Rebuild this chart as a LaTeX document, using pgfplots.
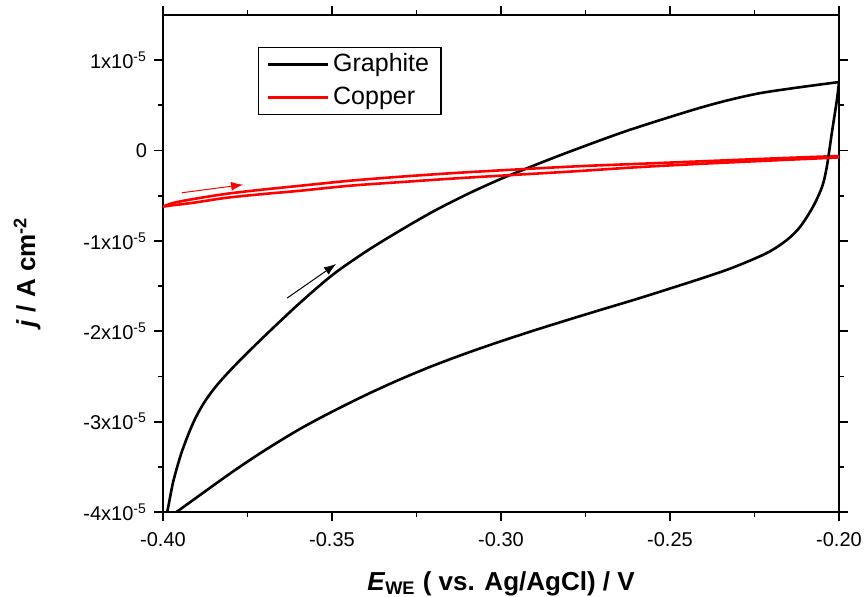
\documentclass[border=0pt]{standalone}
\usepackage{fontspec}
\setmainfont{Liberation Sans}
\usepackage{pgfplots}
\pgfplotsset{compat=1.18}
\usetikzlibrary{arrows.meta}

% graphite: forward (upper) and reverse (lower) scans, j in A cm^-2
\pgfplotstableread{
E        j
-0.4000  -4.15e-5
-0.3988  -4.01e-5
-0.3970  -3.668e-5
-0.3944  -3.330e-5
-0.3911  -3.016e-5
-0.3880  -2.799e-5
-0.3845  -2.617e-5
-0.3800  -2.428e-5
-0.3750  -2.238e-5
-0.3692  -2.026e-5
-0.3595  -1.686e-5
-0.3497  -1.372e-5
-0.3396  -1.109e-5
-0.3299  -0.886e-5
-0.3201  -0.675e-5
-0.3100  -0.483e-5
-0.3003  -0.318e-5
-0.2905  -0.169e-5
-0.2796  -0.011e-5
-0.2627   0.219e-5
-0.2432   0.450e-5
-0.2330   0.555e-5
-0.2234   0.635e-5
-0.2117   0.700e-5
-0.2000   0.758e-5
}\graphitefwd

\pgfplotstableread{
E        j
-0.2000   0.758e-5
-0.2006   0.567e-5
-0.2021   0.20e-5
-0.2036  -0.178e-5
-0.2050  -0.40e-5
-0.2077  -0.622e-5
-0.2115  -0.844e-5
-0.2154  -0.989e-5
-0.2213  -1.133e-5
-0.2314  -1.295e-5
-0.2411  -1.420e-5
-0.2589  -1.632e-5
-0.2707  -1.765e-5
-0.2805  -1.877e-5
-0.2905  -1.994e-5
-0.3003  -2.114e-5
-0.3101  -2.241e-5
-0.3201  -2.381e-5
-0.3299  -2.533e-5
-0.3396  -2.698e-5
-0.3497  -2.885e-5
-0.3595  -3.081e-5
-0.3700  -3.320e-5
-0.3800  -3.57e-5
-0.3964  -4.01e-5
-0.4000  -4.10e-5
}\graphiterev

% copper
\pgfplotstableread{
E        j
-0.4000  -0.62e-5
-0.3970  -0.58e-5
-0.3911  -0.537e-5
-0.3811  -0.478e-5
-0.3700  -0.43e-5
-0.3595  -0.39e-5
-0.3450  -0.335e-5
-0.3300  -0.29e-5
-0.3100  -0.24e-5
-0.2796  -0.178e-5
-0.2600  -0.148e-5
-0.2400  -0.118e-5
-0.2200  -0.088e-5
-0.2000  -0.060e-5
}\copperfwd

\pgfplotstableread{
E        j
-0.2000  -0.060e-5
-0.2000  -0.075e-5
-0.2200  -0.110e-5
-0.2400  -0.145e-5
-0.2600  -0.185e-5
-0.2796  -0.233e-5
-0.3100  -0.30e-5
-0.3300  -0.35e-5
-0.3450  -0.39e-5
-0.3595  -0.445e-5
-0.3700  -0.48e-5
-0.3811  -0.522e-5
-0.3911  -0.578e-5
-0.3970  -0.605e-5
-0.4000  -0.62e-5
}\copperrev

\begin{document}
\begin{tikzpicture}
\path[use as bounding box] (-81.5pt,-42pt) rectangle (351pt,256pt);
\begin{axis}[
  at={(0,0)}, anchor=south west,
  scale only axis, width=338pt, height=248.5pt,
  xmin=-0.40, xmax=-0.20, ymin=-4e-5, ymax=1.5e-5,
  xtick={-0.40,-0.35,-0.30,-0.25,-0.20},
  xticklabels={-0.40,-0.35,-0.30,-0.25,-0.20},
  ytick={-4e-5,-3e-5,-2e-5,-1e-5,0,1e-5},
  yticklabels={-4x10\textsuperscript{-5},-3x10\textsuperscript{-5},-2x10\textsuperscript{-5},-1x10\textsuperscript{-5},0,1x10\textsuperscript{-5}},
  scaled y ticks=false,
  minor x tick num=1, minor y tick num=1,
  tick align=outside,
  major tick length=4.5pt, minor tick length=2.5pt,
  axis line style={line width=1.1pt},
  every tick/.style={black, line width=0.9pt},
  tick label style={font=\fontsize{10}{12}\selectfont},
  x tick label style={yshift=-2pt},
  xlabel={\textbf{\textit{E}\textsubscript{WE} ( vs. Ag/AgCl) / V}},
  ylabel={\textbf{\textit{j} / A cm\textsuperscript{-2}}},
  label style={font=\fontsize{13}{15}\selectfont},
  x label style={at={(axis description cs:0.5,-0.157)}, anchor=base},
  y label style={at={(axis description cs:-0.201,0.483)}, anchor=center},
  clip mode=individual,
  legend style={at={(axis description cs:0.1405,0.9356)}, anchor=north west,
    draw=black, line width=0.6pt, font=\fontsize{12.5}{14}\selectfont,
    inner xsep=4pt, inner ysep=0.3pt, row sep=0pt,
    nodes={inner sep=2pt, text height=9.5pt, text depth=3pt}},
  legend cell align=left,
  legend image code/.code={\draw[#1] (0pt,0pt) -- (30pt,0pt);},
]
\addplot[black, line width=1.3pt, smooth, tension=0.5] table[x=E, y=j] {\graphitefwd};
\addlegendentry{Graphite}
\addplot[red, line width=1.3pt, smooth, tension=0.5] table[x=E, y=j] {\copperfwd};
\addlegendentry{Copper}
\addplot[black, line width=1.3pt, smooth, tension=0.5, forget plot] table[x=E, y=j] {\graphiterev};
\addplot[red, line width=1.3pt, smooth, tension=0.5, forget plot] table[x=E, y=j] {\copperrev};
\draw[black, line width=0.5pt, -{Latex[length=6pt,width=4.5pt]}]
  (axis cs:-0.3633,-1.633e-5) -- (axis cs:-0.3488,-1.256e-5);
\draw[red, line width=0.5pt, -{Latex[length=6pt,width=4.5pt]}]
  (axis cs:-0.3944,-0.467e-5) -- (axis cs:-0.3763,-0.378e-5);
\end{axis}
\end{tikzpicture}
\end{document}
